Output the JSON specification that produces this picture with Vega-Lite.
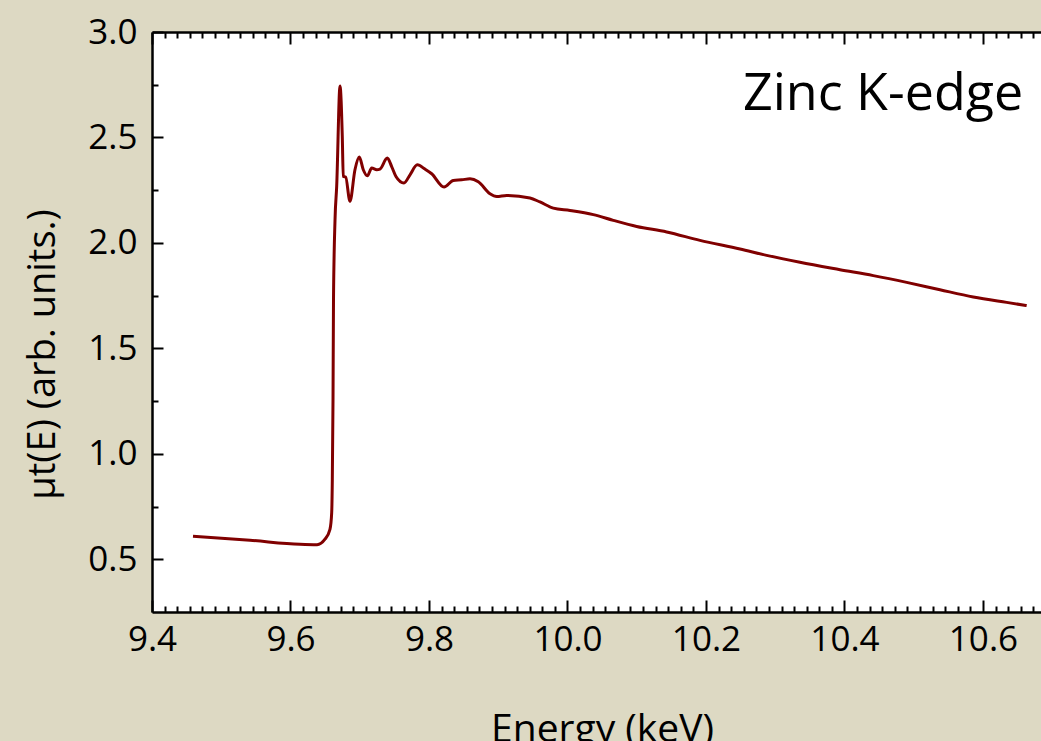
{
  "$schema": "https://vega.github.io/schema/vega-lite/v6.json",
  "width": 889,
  "height": 580,
  "autosize": {"type": "none"},
  "padding": {"left": 152, "top": 32, "right": 0, "bottom": 129},
  "background": "#ddd9c3",
  "view": {"fill": "white", "stroke": null},
  "config": {"font": "Open Sans"},
  "data": {"values": [
    {"energy": 9.4592, "mu": 0.609},
    {"energy": 9.5415, "mu": 0.590},
    {"energy": 9.6137, "mu": 0.571},
    {"energy": 9.6383, "mu": 0.569},
    {"energy": 9.6498, "mu": 0.595},
    {"energy": 9.6570, "mu": 0.642},
    {"energy": 9.6595, "mu": 0.721},
    {"energy": 9.6604, "mu": 0.879},
    {"energy": 9.6614, "mu": 1.258},
    {"energy": 9.6621, "mu": 1.731},
    {"energy": 9.6643, "mu": 2.110},
    {"energy": 9.6667, "mu": 2.268},
    {"energy": 9.6715, "mu": 2.744},
    {"energy": 9.6748, "mu": 2.504},
    {"energy": 9.6762, "mu": 2.315},
    {"energy": 9.6797, "mu": 2.312},
    {"energy": 9.6859, "mu": 2.197},
    {"energy": 9.6931, "mu": 2.347},
    {"energy": 9.6994, "mu": 2.407},
    {"energy": 9.7051, "mu": 2.347},
    {"energy": 9.7109, "mu": 2.318},
    {"energy": 9.7173, "mu": 2.355},
    {"energy": 9.7245, "mu": 2.347},
    {"energy": 9.7292, "mu": 2.350},
    {"energy": 9.7398, "mu": 2.402},
    {"energy": 9.7461, "mu": 2.362},
    {"energy": 9.7523, "mu": 2.315},
    {"energy": 9.7639, "mu": 2.284},
    {"energy": 9.7726, "mu": 2.323},
    {"energy": 9.7831, "mu": 2.370},
    {"energy": 9.7942, "mu": 2.350},
    {"energy": 9.8039, "mu": 2.328},
    {"energy": 9.8217, "mu": 2.265},
    {"energy": 9.8351, "mu": 2.296},
    {"energy": 9.8472, "mu": 2.299},
    {"energy": 9.8592, "mu": 2.304},
    {"energy": 9.8712, "mu": 2.290},
    {"energy": 9.8881, "mu": 2.233},
    {"energy": 9.8978, "mu": 2.220},
    {"energy": 9.9122, "mu": 2.225},
    {"energy": 9.9458, "mu": 2.213},
    {"energy": 9.9603, "mu": 2.194},
    {"energy": 9.9795, "mu": 2.165},
    {"energy": 10.0036, "mu": 2.154},
    {"energy": 10.0373, "mu": 2.134},
    {"energy": 10.0661, "mu": 2.107},
    {"energy": 10.0999, "mu": 2.078},
    {"energy": 10.1432, "mu": 2.052},
    {"energy": 10.1913, "mu": 2.012},
    {"energy": 10.2491, "mu": 1.971},
    {"energy": 10.2876, "mu": 1.941},
    {"energy": 10.3357, "mu": 1.908},
    {"energy": 10.3935, "mu": 1.873},
    {"energy": 10.4416, "mu": 1.845},
    {"energy": 10.4898, "mu": 1.813},
    {"energy": 10.5379, "mu": 1.778},
    {"energy": 10.5860, "mu": 1.744},
    {"energy": 10.6342, "mu": 1.718},
    {"energy": 10.6631, "mu": 1.703}
  ]},
  "layer": [
    {
      "mark": {"type": "line", "color": "#800000", "strokeWidth": 3, "interpolate": "monotone", "clip": true},
      "encoding": {
        "x": {
          "field": "energy", "type": "quantitative",
          "scale": {"domain": [9.4, 10.6838], "nice": false, "zero": false},
          "axis": {
            "orient": "bottom",
            "values": [9.4, 9.41818, 9.43636, 9.45455, 9.47273, 9.49091, 9.50909, 9.52727, 9.54545, 9.56364, 9.58182, 9.6, 9.61818, 9.63636, 9.65455, 9.67273, 9.69091, 9.70909, 9.72727, 9.74545, 9.76364, 9.78182, 9.8, 9.81818, 9.83636, 9.85455, 9.87273, 9.89091, 9.90909, 9.92727, 9.94545, 9.96364, 9.98182, 10.0, 10.01818, 10.03636, 10.05455, 10.07273, 10.09091, 10.10909, 10.12727, 10.14545, 10.16364, 10.18182, 10.2, 10.21818, 10.23636, 10.25455, 10.27273, 10.29091, 10.30909, 10.32727, 10.34545, 10.36364, 10.38182, 10.4, 10.41818, 10.43636, 10.45455, 10.47273, 10.49091, 10.50909, 10.52727, 10.54545, 10.56364, 10.58182, 10.6, 10.61818, 10.63636, 10.65455, 10.67273],
            "labelExpr": "abs(datum.value*5-round(datum.value*5))<0.001 ? format(datum.value,'.1f') : ''",
            "tickSize": {"condition": {"test": "abs(datum.value*5-round(datum.value*5))<0.001", "value": -12}, "value": -6},
            "tickWidth": 2, "tickColor": "black",
            "domainColor": "black", "domainWidth": 2.5,
            "labelFontSize": 35, "labelColor": "black", "labelPadding": 22,
            "labelFlush": false, "labelOverlap": false, "grid": false,
            "title": "Energy (keV)", "titleFontSize": 39, "titleFontWeight": "normal", "titleColor": "black",
            "titleX": 450, "titleY": 129, "titleBaseline": "alphabetic", "titleAlign": "center"
          }
        },
        "y": {
          "field": "mu", "type": "quantitative",
          "scale": {"domain": [0.25, 3.0], "nice": false, "zero": false},
          "axis": {
            "orient": "left",
            "values": [0.5, 0.75, 1.0, 1.25, 1.5, 1.75, 2.0, 2.25, 2.5, 2.75, 3.0],
            "labelExpr": "abs(datum.value*2-round(datum.value*2))<0.001 ? format(datum.value,'.1f') : ''",
            "tickSize": {"condition": {"test": "abs(datum.value*2-round(datum.value*2))<0.001", "value": -11}, "value": -6},
            "tickWidth": 2, "tickColor": "black",
            "domainColor": "black", "domainWidth": 2.5,
            "labelFontSize": 35, "labelColor": "black", "labelPadding": 26,
            "labelFlush": false, "labelOverlap": false, "grid": false,
            "title": "µt(E) (arb. units.)", "titleFontSize": 38, "titleFontWeight": "normal", "titleColor": "black",
            "titleAngle": -90, "titleX": -98, "titleY": 322, "titleBaseline": "alphabetic", "titleAlign": "center"
          }
        }
      }
    },
    {
      "data": {"values": [{"label": "Zinc K-edge"}]},
      "mark": {"type": "text", "align": "right", "baseline": "alphabetic", "fontSize": 52, "color": "black", "font": "Open Sans"},
      "encoding": {
        "text": {"field": "label"},
        "x": {
          "datum": 10.658, "type": "quantitative",
          "scale": {"domain": [9.4, 10.6838], "nice": false, "zero": false},
          "axis": {
            "orient": "top",
            "values": [9.4, 9.41818, 9.43636, 9.45455, 9.47273, 9.49091, 9.50909, 9.52727, 9.54545, 9.56364, 9.58182, 9.6, 9.61818, 9.63636, 9.65455, 9.67273, 9.69091, 9.70909, 9.72727, 9.74545, 9.76364, 9.78182, 9.8, 9.81818, 9.83636, 9.85455, 9.87273, 9.89091, 9.90909, 9.92727, 9.94545, 9.96364, 9.98182, 10.0, 10.01818, 10.03636, 10.05455, 10.07273, 10.09091, 10.10909, 10.12727, 10.14545, 10.16364, 10.18182, 10.2, 10.21818, 10.23636, 10.25455, 10.27273, 10.29091, 10.30909, 10.32727, 10.34545, 10.36364, 10.38182, 10.4, 10.41818, 10.43636, 10.45455, 10.47273, 10.49091, 10.50909, 10.52727, 10.54545, 10.56364, 10.58182, 10.6, 10.61818, 10.63636, 10.65455, 10.67273],
            "labels": false,
            "tickSize": {"condition": {"test": "abs(datum.value*5-round(datum.value*5))<0.001", "value": -12}, "value": -6},
            "tickWidth": 2, "tickColor": "black",
            "domainColor": "black", "domainWidth": 2.5,
            "grid": false, "title": null
          }
        },
        "y": {
          "datum": 2.63, "type": "quantitative",
          "scale": {"domain": [0.25, 3.0], "nice": false, "zero": false},
          "axis": null
        }
      }
    }
  ],
  "resolve": {"axis": {"x": "independent", "y": "independent"}}
}
